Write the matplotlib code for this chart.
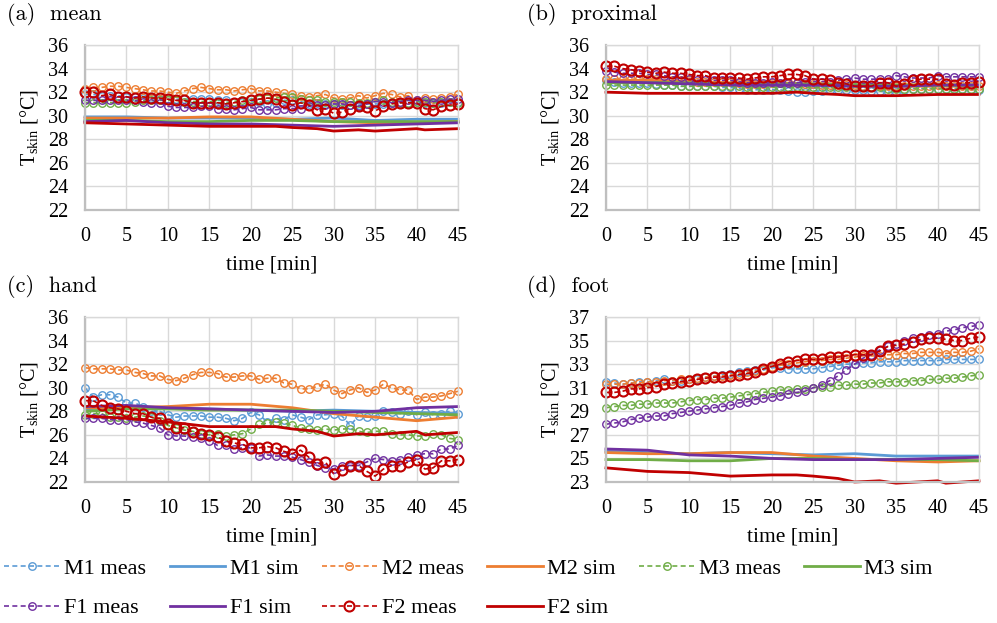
import matplotlib
matplotlib.use("Agg")
import matplotlib.pyplot as plt
import numpy as np

plt.rcParams['font.family'] = ['Liberation Serif', 'DejaVu Serif']
plt.rcParams['mathtext.fontset'] = 'custom'
plt.rcParams['mathtext.rm'] = 'Liberation Serif'
plt.rcParams['mathtext.it'] = 'Liberation Serif:italic'

# --- data ---
T = np.arange(46)  # minutes, one measurement per minute
SUBJECTS = ["M1", "M2", "M3", "F1", "F2"]
COLORS = {"M1": "#5B9BD5", "M2": "#ED7D31", "M3": "#70AD47",
          "F1": "#7030A0", "F2": "#C00000"}

SIM_T = [0, 5, 10, 15, 20, 25, 30, 35, 40, 45]
F2_SIM_T = [0, 5, 10, 15, 20, 23, 25, 28, 30, 33, 35, 40, 41, 45]

# (a) mean
MEAN_MEAS = {
    "M1": [31.8, 31.8, 31.7, 31.7, 31.7, 31.6, 31.6, 31.5, 31.5, 31.4, 31.4, 31.4, 31.4, 31.4, 31.4, 31.4,
           31.3, 31.3, 31.2, 31.2, 31.2, 31.2, 31.0, 31.1, 31.3, 31.3, 31.2, 31.0, 31.1, 31.0, 31.0,
           30.9, 30.9, 30.9, 31.0, 31.0, 31.0, 31.1, 31.1, 31.1, 31.2, 31.1, 31.1, 31.1, 31.2, 31.2],
    "M2": [32.3, 32.4, 32.4, 32.5, 32.5, 32.4, 32.3, 32.2, 32.1, 32.1, 32.0, 31.9, 32.1, 32.3, 32.4, 32.3,
           32.2, 32.2, 32.1, 32.2, 32.3, 32.1, 32.1, 32.0, 31.9, 31.8, 31.7, 31.6, 31.7, 31.8, 31.5,
           31.4, 31.5, 31.7, 31.5, 31.7, 31.9, 31.8, 31.6, 31.7, 31.3, 31.5, 31.4, 31.5, 31.6, 31.8],
    "M3": [31.1, 31.1, 31.1, 31.1, 31.1, 31.1, 31.2, 31.3, 31.3, 31.3, 31.3, 31.3, 31.2, 31.2, 31.2, 31.2,
           31.1, 31.1, 31.2, 31.3, 31.4, 31.4, 31.5, 31.5, 31.6, 31.6, 31.4, 31.3, 31.3, 31.2, 31.2,
           31.2, 31.2, 31.1, 31.1, 31.2, 31.3, 31.2, 31.1, 31.1, 31.2, 31.2, 31.1, 31.2, 31.2, 31.1],
    "F1": [31.3, 31.3, 31.3, 31.3, 31.3, 31.3, 31.3, 31.2, 31.1, 31.1, 30.8, 30.7, 30.7, 30.7, 30.8, 30.8,
           30.6, 30.6, 30.5, 30.6, 30.7, 30.5, 30.5, 30.5, 30.6, 30.6, 30.6, 30.8, 30.9, 30.9, 31.0,
           31.0, 30.9, 30.8, 31.0, 31.2, 31.2, 31.1, 31.2, 31.3, 31.3, 31.3, 31.2, 31.3, 31.4, 31.4],
    "F2": [32.0, 32.0, 31.7, 31.8, 31.6, 31.6, 31.5, 31.6, 31.5, 31.5, 31.4, 31.3, 31.3, 31.1, 31.1, 31.1,
           31.1, 31.0, 31.1, 31.2, 31.3, 31.4, 31.5, 31.4, 31.2, 30.9, 31.1, 30.9, 30.5, 30.6, 30.2,
           30.3, 30.6, 30.8, 30.7, 30.4, 30.8, 31.0, 31.1, 31.1, 31.1, 30.6, 30.5, 30.8, 30.9, 31.0],
}
MEAN_SIM = {
    "M1": [29.9, 29.9, 29.8, 29.8, 29.8, 29.7, 29.8, 29.6, 29.7, 29.7],
    "M2": [29.8, 29.8, 29.8, 29.9, 29.9, 29.7, 29.5, 29.4, 29.4, 29.5],
    "M3": [29.6, 29.6, 29.5, 29.5, 29.6, 29.6, 29.5, 29.5, 29.5, 29.5],
    "F1": [29.5, 29.6, 29.4, 29.3, 29.3, 29.2, 29.1, 29.2, 29.3, 29.4],
    "F2": [29.4, 29.3, 29.2, 29.1, 29.1, 29.1, 29.0, 28.9, 28.7, 28.8, 28.7, 28.9, 28.8, 28.9],
}

# (b) proximal
PROX_MEAS = {
    "M1": [33.0, 32.9, 32.8, 32.8, 32.8, 32.8, 32.7, 32.6, 32.6, 32.5, 32.5, 32.5, 32.5, 32.5, 32.4, 32.4,
           32.3, 32.2, 32.2, 32.2, 32.2, 32.2, 32.1, 32.0, 32.0, 32.1, 32.1, 32.2, 32.2, 32.2, 32.2,
           32.2, 32.1, 32.1, 32.0, 32.0, 32.2, 32.3, 32.3, 32.3, 32.3, 32.3, 32.3, 32.3, 32.2, 32.2],
    "M2": [33.1, 33.1, 33.1, 33.1, 33.1, 33.1, 33.1, 33.0, 33.0, 33.0, 33.0, 32.9, 32.9, 32.9, 32.9, 32.9,
           32.8, 32.7, 32.7, 32.7, 32.8, 32.8, 32.9, 32.8, 32.7, 32.7, 32.6, 32.6, 32.6, 32.6, 32.6,
           32.5, 32.4, 32.5, 32.5, 32.5, 32.5, 32.5, 32.5, 32.5, 32.6, 32.5, 32.5, 32.5, 32.5, 32.5],
    "M3": [32.6, 32.6, 32.6, 32.6, 32.6, 32.6, 32.6, 32.6, 32.6, 32.5, 32.5, 32.5, 32.5, 32.5, 32.5, 32.5,
           32.5, 32.4, 32.3, 32.4, 32.4, 32.4, 32.4, 32.4, 32.4, 32.4, 32.4, 32.4, 32.4, 32.4, 32.4,
           32.4, 32.4, 32.4, 32.3, 32.3, 32.3, 32.3, 32.3, 32.3, 32.3, 32.3, 32.3, 32.3, 32.3, 32.3],
    "F1": [33.8, 33.7, 33.6, 33.6, 33.6, 33.5, 33.5, 33.4, 33.3, 33.3, 33.1, 33.0, 33.0, 33.0, 33.0, 33.0,
           32.9, 32.8, 32.8, 32.8, 32.9, 32.8, 32.8, 32.8, 32.9, 32.9, 32.9, 32.9, 33.0, 33.1, 33.2,
           33.1, 33.1, 33.1, 33.1, 33.4, 33.3, 33.2, 33.2, 33.2, 33.4, 33.3, 33.3, 33.3, 33.3, 33.3],
    "F2": [34.2, 34.2, 34.0, 33.9, 33.8, 33.7, 33.6, 33.7, 33.6, 33.6, 33.5, 33.4, 33.4, 33.2, 33.2, 33.2,
           33.2, 33.1, 33.2, 33.3, 33.3, 33.4, 33.5, 33.5, 33.4, 33.1, 33.1, 33.0, 32.8, 32.7, 32.5,
           32.5, 32.5, 32.8, 32.8, 32.5, 32.7, 33.0, 33.1, 33.1, 33.1, 32.7, 32.6, 32.8, 32.8, 32.9],
}
PROX_SIM = {
    "M1": [32.9, 32.9, 32.8, 32.7, 32.7, 32.6, 32.6, 32.5, 32.6, 32.6],
    "M2": [33.0, 33.0, 32.9, 32.8, 32.8, 32.7, 32.6, 32.5, 32.5, 32.5],
    "M3": [32.8, 32.8, 32.8, 32.7, 32.7, 32.7, 32.6, 32.6, 32.6, 32.6],
    "F1": [32.9, 32.8, 32.7, 32.6, 32.6, 32.6, 32.5, 32.5, 32.6, 32.6],
    "F2": [32.0, 31.9, 31.9, 31.9, 31.9, 32.0, 31.9, 31.8, 31.7, 31.7, 31.7, 31.8, 31.8, 31.8],
}

# (c) hand
HAND_MEAS = {
    "M1": [30.0, 29.2, 29.4, 29.4, 29.2, 28.7, 28.7, 28.4, 28.0, 28.0, 27.7, 27.5, 27.6, 27.6, 27.6, 27.5,
           27.5, 27.4, 27.2, 27.4, 27.9, 27.7, 27.1, 27.4, 27.3, 27.7, 27.5, 27.3, 27.7, 27.7, 27.8,
           27.6, 26.8, 27.6, 27.5, 27.6, 28.0, 27.9, 27.8, 28.0, 27.7, 27.9, 27.7, 27.8, 28.0, 27.8],
    "M2": [31.7, 31.6, 31.6, 31.6, 31.5, 31.5, 31.3, 31.2, 31.0, 31.0, 30.7, 30.6, 30.8, 31.1, 31.3, 31.3,
           31.2, 30.9, 30.9, 31.0, 31.0, 30.7, 30.8, 30.8, 30.4, 30.3, 29.9, 29.9, 30.1, 30.3, 29.8,
           29.5, 29.8, 30.0, 29.6, 29.8, 30.3, 30.0, 29.8, 29.8, 29.0, 29.2, 29.2, 29.3, 29.5, 29.7],
    "M3": [27.7, 27.8, 27.8, 27.5, 27.5, 27.4, 27.5, 27.6, 27.5, 27.2, 26.8, 26.6, 26.4, 26.3, 26.1, 26.0,
           26.1, 25.9, 26.0, 26.1, 26.5, 26.9, 27.0, 27.1, 27.0, 26.8, 26.6, 26.5, 26.4, 26.5, 26.4,
           26.5, 26.5, 26.3, 26.2, 26.3, 26.3, 26.1, 26.0, 26.0, 25.9, 25.9, 26.1, 26.0, 25.7, 25.6],
    "F1": [27.4, 27.4, 27.4, 27.3, 27.3, 27.3, 27.1, 27.0, 26.8, 26.6, 26.0, 25.9, 25.9, 25.8, 25.7, 25.5,
           25.1, 25.1, 24.8, 24.9, 24.9, 24.2, 24.3, 24.2, 24.2, 24.1, 23.9, 23.7, 23.4, 23.2, 23.1,
           23.4, 23.4, 23.4, 23.7, 24.0, 23.9, 23.8, 23.9, 24.1, 24.3, 24.4, 24.4, 24.8, 24.8, 25.1],
    "F2": [28.9, 28.9, 28.5, 28.3, 28.2, 28.0, 27.8, 27.8, 27.5, 27.4, 26.9, 26.6, 26.6, 26.2, 26.1, 26.0,
           25.8, 25.5, 25.3, 25.2, 24.9, 24.9, 25.0, 24.9, 24.6, 24.4, 24.7, 24.1, 23.5, 23.7, 22.7,
           23.0, 23.4, 23.4, 22.9, 22.5, 23.1, 23.4, 23.4, 23.7, 23.9, 23.1, 23.2, 23.8, 23.8, 23.9],
}
HAND_SIM = {
    "M1": [28.2, 28.4, 28.3, 28.2, 28.1, 28.0, 28.1, 28.0, 27.9, 27.8],
    "M2": [28.3, 28.3, 28.4, 28.6, 28.6, 28.3, 27.8, 27.5, 27.2, 27.5],
    "M3": [28.0, 28.2, 28.2, 28.1, 28.1, 28.1, 28.0, 27.9, 27.8, 27.7],
    "F1": [28.4, 28.5, 28.3, 28.2, 28.1, 28.0, 27.9, 28.0, 28.3, 28.4],
    "F2": [27.6, 27.4, 27.1, 26.7, 26.7, 26.7, 26.5, 26.3, 25.9, 26.1, 26.0, 26.3, 26.0, 26.2],
}

# (d) foot
FOOT_MEAS = {
    "M1": [31.5, 31.4, 31.3, 31.4, 31.5, 31.5, 31.6, 31.7, 31.6, 31.6, 31.7, 31.7, 31.9, 32.0, 32.1, 32.2,
           32.3, 32.4, 32.5, 32.5, 32.7, 32.7, 32.6, 32.6, 32.6, 32.6, 32.7, 32.8, 32.9, 33.0, 33.0,
           33.1, 33.1, 33.2, 33.2, 33.2, 33.3, 33.3, 33.3, 33.3, 33.3, 33.4, 33.4, 33.4, 33.4, 33.4],
    "M2": [31.3, 31.3, 31.3, 31.4, 31.4, 31.5, 31.5, 31.6, 31.6, 31.7, 31.7, 31.8, 31.9, 32.0, 32.0, 32.1,
           32.2, 32.3, 32.4, 32.6, 32.8, 32.9, 33.0, 33.1, 33.2, 33.3, 33.3, 33.4, 33.4, 33.5, 33.6,
           33.7, 33.7, 33.7, 33.8, 33.8, 33.9, 33.9, 34.0, 34.0, 34.0, 33.9, 34.0, 34.0, 34.1, 34.3],
    "M3": [29.3, 29.4, 29.5, 29.5, 29.6, 29.6, 29.7, 29.7, 29.7, 29.8, 29.9, 30.0, 30.0, 30.1, 30.1, 30.2,
           30.3, 30.4, 30.5, 30.6, 30.7, 30.8, 30.8, 30.9, 30.9, 31.0, 31.1, 31.1, 31.2, 31.2, 31.3,
           31.3, 31.4, 31.4, 31.5, 31.5, 31.5, 31.6, 31.6, 31.7, 31.7, 31.8, 31.8, 31.9, 32.0, 32.1],
    "F1": [27.9, 28.0, 28.1, 28.3, 28.4, 28.5, 28.6, 28.6, 28.8, 28.9, 29.0, 29.1, 29.2, 29.3, 29.4, 29.5,
           29.7, 29.8, 30.0, 30.1, 30.2, 30.3, 30.5, 30.6, 30.7, 31.0, 31.2, 31.6, 32.0, 32.5, 33.0,
           33.5, 33.8, 34.2, 34.5, 34.7, 35.0, 35.2, 35.3, 35.5, 35.6, 35.8, 35.9, 36.1, 36.2, 36.3],
    "F2": [30.6, 30.6, 30.7, 30.9, 30.9, 31.0, 31.1, 31.3, 31.4, 31.5, 31.6, 31.7, 31.8, 31.9, 31.9, 32.0,
           32.1, 32.2, 32.3, 32.6, 32.8, 33.0, 33.2, 33.3, 33.4, 33.4, 33.4, 33.6, 33.6, 33.7, 33.8,
           33.8, 33.8, 34.1, 34.5, 34.6, 34.7, 34.9, 35.1, 35.2, 35.2, 35.1, 35.0, 35.0, 35.2, 35.3],
}
FOOT_SIM = {
    "M1": [25.6, 25.5, 25.4, 25.5, 25.4, 25.3, 25.4, 25.2, 25.2, 25.2],
    "M2": [25.5, 25.4, 25.4, 25.5, 25.5, 25.2, 25.0, 24.8, 24.7, 24.8],
    "M3": [24.9, 24.9, 24.8, 24.8, 25.0, 25.0, 24.9, 24.9, 24.9, 24.8],
    "F1": [25.8, 25.7, 25.3, 25.2, 25.0, 24.9, 24.9, 24.9, 25.0, 25.1],
    "F2": [24.2, 23.9, 23.8, 23.5, 23.6, 23.6, 23.5, 23.3, 23.0, 23.1, 22.9, 23.1, 22.9, 23.1],
}

PANELS = [
    ("(a)  mean", MEAN_MEAS, MEAN_SIM, (22, 36), np.arange(22, 37, 2)),
    ("(b)  proximal", PROX_MEAS, PROX_SIM, (22, 36), np.arange(22, 37, 2)),
    ("(c)  hand", HAND_MEAS, HAND_SIM, (22, 36), np.arange(22, 37, 2)),
    ("(d)  foot", FOOT_MEAS, FOOT_SIM, (23, 37), np.arange(23, 38, 2)),
]

W, H = 997, 623
fig = plt.figure(figsize=(W / 100, H / 100), dpi=100)

# axes rectangles in pixels: left, top, right, bottom
RECTS = [(85, 45, 458, 210), (606, 45, 979, 210),
         (85, 317, 458, 482), (606, 317, 979, 482)]
TITLE_POS = [(7, 15), (527, 15), (7, 287), (527, 287)]

handles = {}
for (title, meas, sim, ylim, yticks), (l, t, r, b), (tx, ty) in zip(PANELS, RECTS, TITLE_POS):
    ax = fig.add_axes([l / W, 1 - b / H, (r - l) / W, (b - t) / H])
    for s in SUBJECTS:
        c = COLORS[s]
        big = s == "F2"
        hm, = ax.plot(T, meas[s], color=c, lw=1.2, ls=(0, (3, 2)), marker='o',
                      ms=7.2 if big else 5.4, mfc='none', mec=c, mew=1.5 if big else 1.0,
                      label=f"{s} meas", clip_on=False)
        st = F2_SIM_T if s == "F2" else SIM_T
        hs, = ax.plot(st, sim[s], color=c, lw=2.0, label=f"{s} sim", clip_on=False)
        handles[f"{s} meas"] = hm
        handles[f"{s} sim"] = hs
    ax.set_xlim(0, 45)
    ax.set_ylim(*ylim)
    ax.set_xticks(np.arange(0, 46, 5))
    ax.set_yticks(yticks)
    ax.grid(True, color='#d9d9d9', lw=1.0)
    ax.set_axisbelow(True)
    ax.tick_params(length=0, labelsize=14.5, pad=12)
    for side in ('top', 'right'):
        ax.spines[side].set_color('#d9d9d9')
        ax.spines[side].set_linewidth(1.0)
    for side in ('left', 'bottom'):
        ax.spines[side].set_color('#bfbfbf')
        ax.spines[side].set_linewidth(1.6)
    ax.set_xlabel("time [min]", fontsize=15.5, labelpad=7)
    ax.set_ylabel(r"T$_{\mathrm{skin}}$ [°C]", fontsize=14.5, labelpad=6)
    fig.text(tx / W, 1 - ty / H, title, fontsize=16, family='cmr10', va='center', ha='left')

# legend: two rows, matplotlib fills columns top-to-bottom
order = ["M1 meas", "F1 meas", "M1 sim", "F1 sim", "M2 meas", "F2 meas",
         "M2 sim", "F2 sim", "M3 meas", "M3 sim"]
fig.legend([handles[k] for k in order], order, ncol=6, loc='upper left',
           bbox_to_anchor=(0.0, 1 - 554 / H), frameon=False, fontsize=16,
           handlelength=2.5, handletextpad=0.2, columnspacing=1.05,
           labelspacing=0.85, borderpad=0, borderaxespad=0.2, numpoints=1)

fig.savefig("out.png", dpi=100)
